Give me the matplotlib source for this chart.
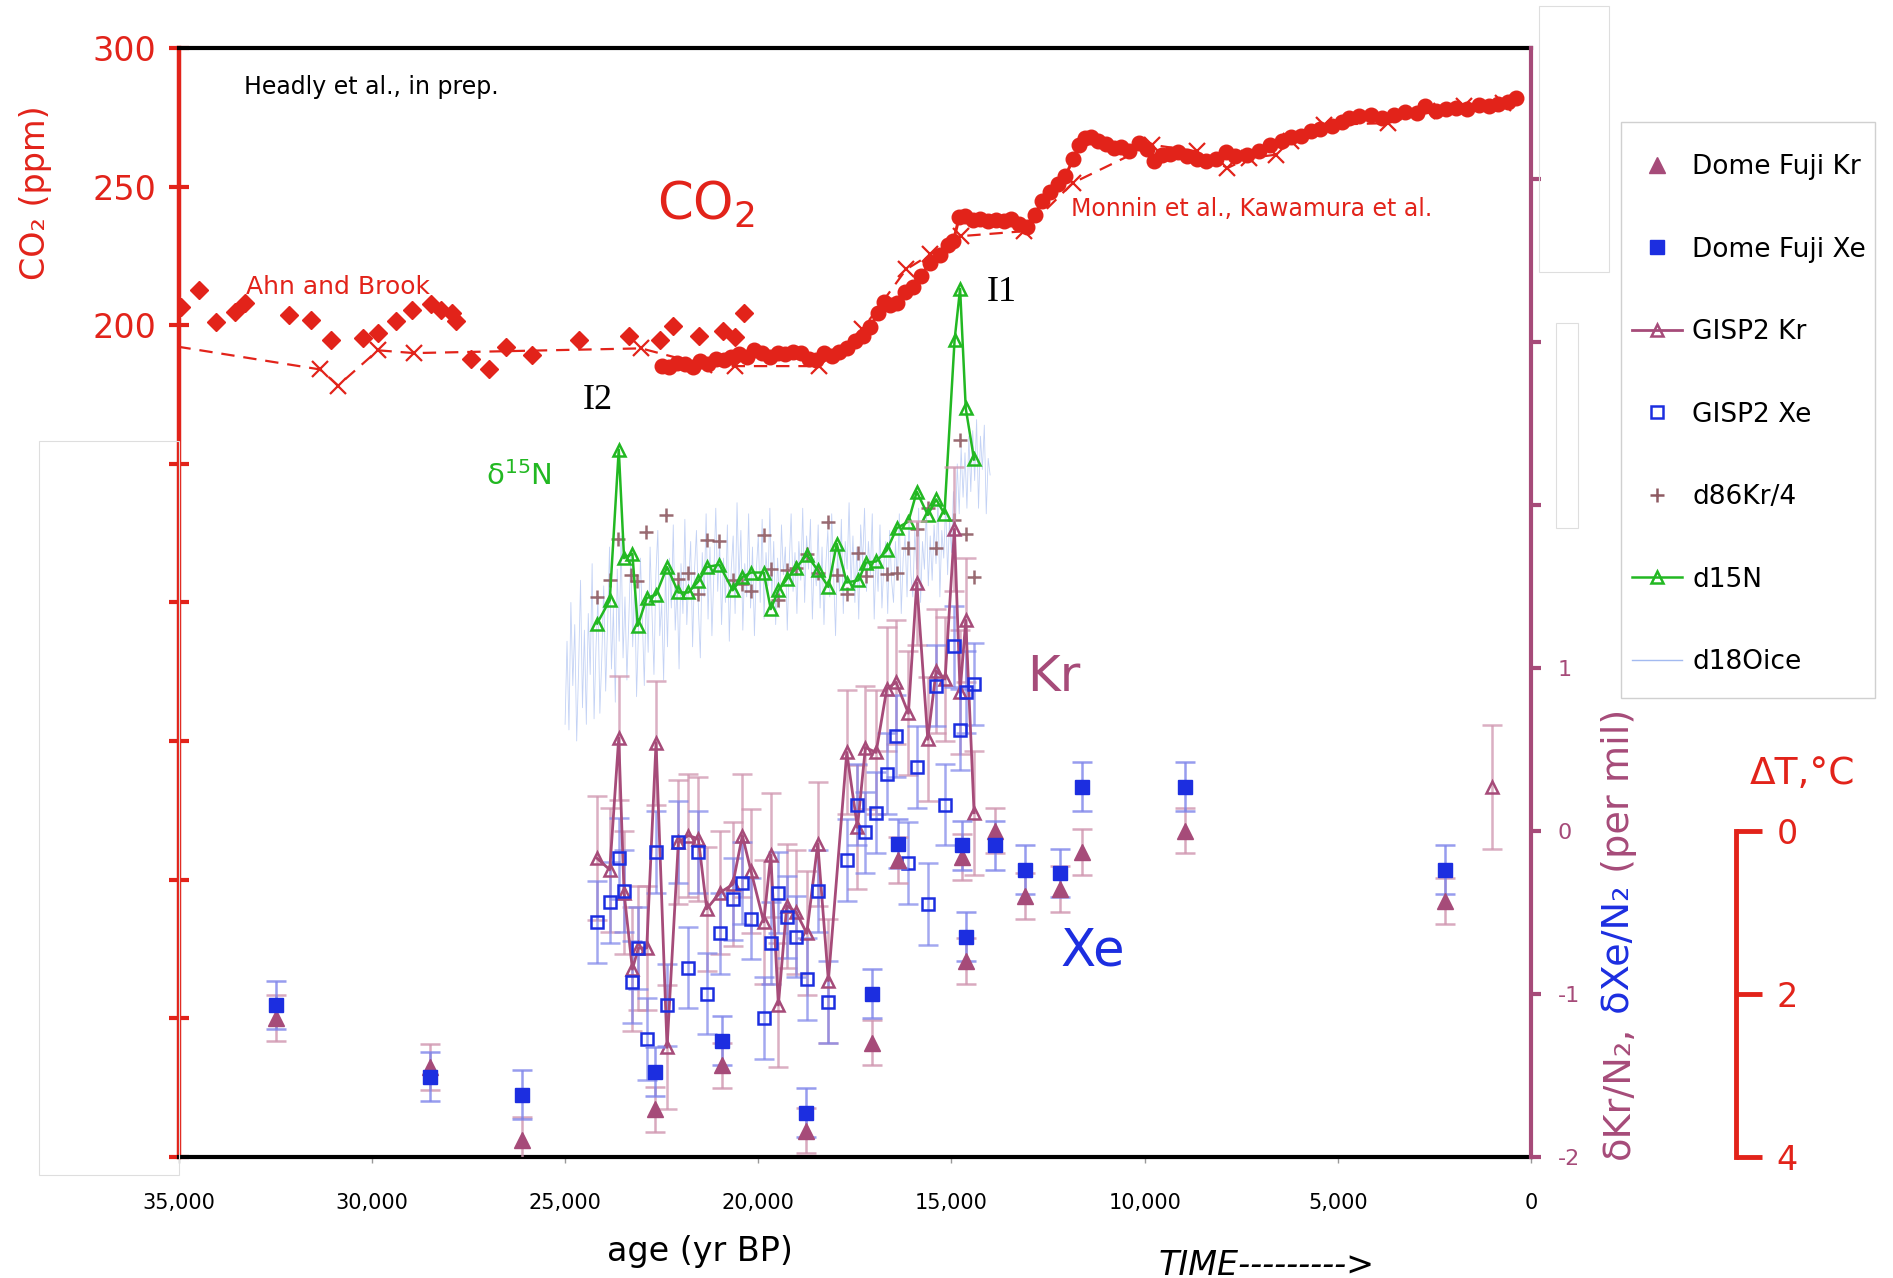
import matplotlib
matplotlib.use("Agg")
import matplotlib.pyplot as plt
import numpy as np
from matplotlib.lines import Line2D
from matplotlib.patches import Rectangle
from matplotlib.ticker import FixedLocator, FuncFormatter

plt.rcParams['font.family'] = ['DejaVu Sans']

RED = '#e2231a'
KR = '#a64b79'
XE = '#1c2ee0'
GREEN = '#22b822'
PLUS = '#8e5a62'
O18 = '#a3baf0'

# --- CO2 records (ppm) ---
ahn_age = [34942, 34480, 34029, 33532, 33290, 32157, 31568, 31060, 30240, 29835,
           29384, 28968, 28483, 28206, 27928, 27824, 27443, 26958, 26542, 25848,
           24647, 23341, 22532, 22220, 21537, 20911, 20614, 20378]
ahn_co2 = [206.6, 212.9, 201.3, 204.8, 208.0, 203.6, 202.0, 194.9, 195.4, 197.3,
           201.4, 205.4, 207.6, 205.6, 204.4, 201.5, 187.8, 184.2, 192.2, 189.4,
           194.8, 196.0, 194.6, 199.6, 196.1, 197.9, 195.9, 204.6]

kaw_age = [35600, 31344, 30875, 29844, 28906, 23031, 21403, 20614, 18437, 17303,
           16174, 15546, 14762, 13115, 11860, 9820, 8642, 7858, 7310, 6602,
           6212, 5350, 3702, 2682, 1742, 720]
kaw_co2 = [193.6, 184.1, 178.3, 191.0, 190.0, 191.7, 185.7, 185.3, 185.3, 198.6,
           220.2, 225.6, 232.2, 234.0, 251.4, 265.2, 262.8, 256.8, 260.4, 261.6,
           266.4, 272.4, 273.0, 277.2, 279.0, 280.2]

monnin_age = [22500, 22300, 22100, 21900, 21700, 21500, 21300, 21100, 20900, 20700,
              20500, 20300, 20100, 19900, 19700, 19500, 19300, 19100, 18900, 18700,
              18500, 18300, 18100, 17900, 17700, 17500, 17300, 17100, 16900, 16750,
              16600, 16400, 16200, 16000, 15800, 15550, 15300, 15100, 14950, 14800,
              14650, 14450, 14250, 14050, 13850, 13650, 13450, 13250, 13050, 12850,
              12650, 12450, 12250, 12050, 11850, 11700, 11550, 11400, 11200, 11000,
              10800, 10600, 10400, 10150, 9950, 9750, 9550, 9350, 9150, 8900,
              8650, 8400, 8150, 7900, 7650, 7350, 7050, 6750, 6450, 6200,
              5950, 5700, 5450, 5150, 4900, 4700, 4450, 4150, 3850, 3550,
              3250, 2950, 2750, 2450, 2200, 1950, 1650, 1350, 1100, 850,
              600, 400]
monnin_co2 = [185.5, 185.0, 186.5, 186.0, 185.0, 187.0, 186.0, 188.0, 187.5, 188.5,
              189.5, 188.5, 191.0, 190.0, 188.5, 190.0, 189.5, 190.5, 190.0, 188.0,
              187.5, 190.0, 189.0, 190.5, 192.0, 194.5, 196.0, 199.5, 204.5, 208.5,
              207.5, 208.0, 212.0, 214.0, 218.0, 222.5, 225.5, 229.0, 230.5, 239.0,
              239.5, 238.0, 238.5, 237.5, 238.0, 237.5, 238.5, 236.5, 235.5, 240.0,
              245.0, 248.0, 251.0, 254.0, 260.0, 265.0, 267.5, 268.0, 266.5, 265.5,
              264.0, 264.5, 263.0, 266.0, 263.5, 259.5, 261.5, 262.0, 262.5, 261.0,
              260.0, 259.5, 260.0, 262.5, 261.0, 261.5, 263.0, 265.0, 266.5, 268.0,
              268.5, 270.0, 271.0, 272.0, 273.5, 275.0, 275.5, 276.0, 275.0, 276.0,
              277.0, 276.5, 279.0, 277.5, 278.0, 278.5, 278.0, 279.5, 279.0, 280.0,
              280.5, 282.0]

# --- GISP2 noble gases (per mil) ---
gisp2_age = [24172, 23844, 23611, 23474, 23258, 23103, 22887, 22646, 22361, 22068,
             21810, 21551, 21334, 20989, 20661, 20412, 20187, 19858, 19677, 19480,
             19263, 19022, 18745, 18461, 18186, 17710, 17434, 17227, 16951, 16674,
             16433, 16115, 15898, 15613, 15398, 15165, 14924, 14777, 14630, 14415]
gisp2_kr = [-0.17, -0.24, 0.57, -0.38, -0.85, -0.72, -0.72, 0.54, -1.33, -0.07,
            -0.03, -0.05, -0.48, -0.38, -0.33, -0.03, -0.25, -0.56, -0.15, -1.07,
            -0.46, -0.50, -0.63, -0.08, -0.92, 0.48, 0.02, 0.51, 0.48, 0.87,
            0.91, 0.72, 1.52, 0.56, 0.98, 0.93, 1.85, 0.85, 1.29, 0.11]
gisp2_xe = [-0.56, -0.44, -0.17, -0.37, -0.93, -0.72, -1.28, -0.13, -1.07, -0.07,
            -0.84, -0.13, -1.00, -0.63, -0.42, -0.32, -0.54, -1.15, -0.69, -0.38,
            -0.53, -0.65, -0.91, -0.37, -1.05, -0.18, 0.16, -0.01, 0.11, 0.35,
            0.58, -0.20, 0.39, -0.45, 0.89, 0.16, 1.13, 0.62, 0.85, 0.90]
gisp2_kr_late_age = [1000]
gisp2_kr_late = [0.27]
gisp2_kr_err = 0.38
gisp2_xe_err = 0.25

# --- Dome Fuji noble gases (per mil) ---
df_age = [32469, 28500, 26125, 22672, 20929, 18771, 17047, 16389, 14716, 14621,
          13871, 13094, 12188, 11625, 8969, 2219]
df_kr = [-1.15, -1.45, -1.90, -1.71, -1.44, -1.84, -1.30, -0.18, -0.16, -0.80,
         0.00, -0.40, -0.36, -0.13, 0.00, -0.43]
df_xe = [-1.07, -1.51, -1.62, -1.48, -1.29, -1.73, -1.00, -0.08, -0.09, -0.65,
         -0.09, -0.24, -0.26, 0.27, 0.27, -0.24]
df_kr_err = 0.14
df_xe_err = 0.15

# --- GISP2 d15N and d86Kr/4 (per mil) ---
n15_age = [24172, 23844, 23611, 23474, 23258, 23120, 22887, 22646, 22361, 22068,
           21810, 21551, 21334, 21006, 20661, 20412, 20187, 19858, 19677, 19480,
           19263, 19022, 18745, 18461, 18186, 17969, 17710, 17408, 17210, 16951,
           16674, 16416, 16115, 15898, 15613, 15398, 15182, 14919, 14777, 14630,
           14415]
n15 = [0.281, 0.302, 0.438, 0.340, 0.344, 0.279, 0.304, 0.307, 0.332, 0.309,
       0.309, 0.319, 0.332, 0.334, 0.311, 0.323, 0.327, 0.327, 0.294, 0.311,
       0.321, 0.331, 0.343, 0.329, 0.314, 0.353, 0.318, 0.320, 0.336, 0.337,
       0.347, 0.367, 0.373, 0.400, 0.379, 0.393, 0.380, 0.537, 0.583, 0.475,
       0.429]
kr86_age = [24183, 23850, 23620, 23284, 23137, 22913, 22378, 22068, 21827, 21551,
            21334, 21006, 20661, 20412, 20187, 19858, 19677, 19480, 19263, 19022,
            18745, 18461, 18186, 17969, 17710, 17408, 17210, 16674, 16416, 16115,
            15898, 15613, 15398, 14924, 14777, 14630, 14415]
kr86_q = [0.305, 0.320, 0.357, 0.325, 0.319, 0.364, 0.379, 0.321, 0.327, 0.308,
          0.356, 0.355, 0.320, 0.317, 0.310, 0.361, 0.330, 0.302, 0.329, 0.331,
          0.344, 0.327, 0.373, 0.325, 0.308, 0.345, 0.324, 0.326, 0.327, 0.349,
          0.366, 0.385, 0.349, 0.374, 0.447, 0.362, 0.323]

# --- GISP2 d18O of ice, 50-yr steps from 25,000 yr BP ---
d18o_ice = [-41.8, -40.3, -41.9, -39.6, -41.1, -40.0, -42.1, -40.8, -39.2, -41.5,
            -40.1, -41.8, -39.8, -40.9, -38.9, -41.7, -40.4, -39.5, -41.6, -40.6,
            -39.3, -41.2, -40.0, -38.6, -40.8, -39.7, -41.4, -39.0, -40.3, -38.4,
            -40.6, -39.5, -41.0, -39.9, -38.7, -40.4, -39.2, -41.3, -40.1, -38.8,
            -39.9, -41.1, -39.4, -40.5, -38.6, -39.8, -40.9, -39.1, -38.3, -40.2,
            -39.6, -41.0, -39.0, -40.4, -38.8, -39.7, -38.2, -40.1, -39.3, -40.8,
            -38.9, -39.8, -38.1, -40.0, -39.2, -38.5, -40.4, -39.0, -38.3, -39.7,
            -40.6, -38.7, -39.5, -38.0, -39.9, -38.6, -40.2, -39.1, -37.9, -39.4,
            -38.5, -40.0, -38.8, -39.6, -38.2, -40.3, -39.0, -38.4, -39.8, -37.8,
            -39.2, -38.3, -40.1, -38.9, -39.5, -38.0, -39.7, -38.6, -40.2, -39.0,
            -38.4, -39.6, -38.1, -39.9, -38.7, -39.3, -37.9, -39.5, -38.5, -40.0,
            -38.8, -39.7, -38.2, -39.1, -38.6, -40.1, -38.9, -38.0, -39.4, -38.7,
            -39.8, -38.5, -39.2, -37.9, -39.6, -38.4, -39.0, -38.1, -39.9, -38.8,
            -39.3, -38.2, -39.7, -38.6, -40.0, -38.9, -38.3, -39.5, -38.0, -39.1,
            -40.2, -38.7, -39.4, -38.1, -39.8, -38.5, -39.0, -37.8, -39.3, -38.4,
            -39.6, -38.6, -39.9, -38.2, -38.9, -37.9, -39.4, -38.5, -39.1, -38.0,
            -39.9, -38.7, -39.4, -38.2, -39.7, -38.9, -38.5, -39.8, -38.3, -39.2,
            -39.6, -38.5, -39.2, -38.0, -39.8, -38.8, -38.4, -39.5, -38.1, -39.1,
            -39.5, -38.3, -39.0, -37.9, -39.6, -38.5, -39.0, -37.9, -39.3, -38.4,
            -39.2, -38.2, -38.9, -37.7, -39.5, -38.3, -38.8, -37.8, -39.1, -38.1,
            -38.7, -37.6, -38.3, -37.1, -38.0, -36.8, -37.7, -36.9, -37.9, -36.6,
            -37.6, -36.5, -37.4, -36.3, -37.9, -36.6, -37.2, -36.4, -38.0, -37.0,
            -37.3]
d18o_age = 25000 - 50 * np.arange(len(d18o_ice))

co2_ticks = [-100, -50, 0, 50, 100, 150, 200, 250, 300]
co2_labelled = [200, 250, 300]
kr_ticks = [-2, -1, 0, 1, 2, 3, 4]
kr_labelled = [-2, -1, 0, 1]
age_ticks = [35000, 30000, 25000, 20000, 15000, 10000, 5000, 0]
dt_ticks = [0, 2, 4]

fig = plt.figure(figsize=(18.93, 12.78), dpi=100)
ax = fig.add_axes([0.0944, 0.095, 0.7144, 0.8672])
ax_o18 = ax.twinx()
ax_n = ax.twinx()
ax_kr = ax.twinx()

ax.set_xlim(35000, 0)
ax.set_ylim(-100, 300)
ax_o18.set_ylim(-49.6, -29.6)
ax_n.set_ylim(-0.2, 0.8)
ax_kr.set_ylim(-2, 4.8)
ax_o18.axis('off')
ax_n.axis('off')

# CO2
ax.plot(kaw_age, kaw_co2, ls=(0, (6, 4)), marker='x', color=RED, ms=12,
        mew=1.6, lw=1.6)
ax.plot(ahn_age, ahn_co2, 'D', color=RED, ms=9.5, ls='none')
ax.plot(monnin_age, monnin_co2, '-o', color=RED, ms=10.5, lw=2.2)

# d18O ice and d15N / d86Kr
ax_o18.plot(d18o_age, d18o_ice, color=O18, lw=0.6, alpha=0.65)
ax_n.plot(kr86_age, kr86_q, '+', color=PLUS, ms=10, mew=1.8, alpha=0.9)
ax_n.plot(n15_age, n15, '-^', color=GREEN, mfc='none', ms=9, mew=1.8, lw=1.8)

# noble gases
ebar = dict(fmt='none', elinewidth=1.8, capsize=7, capthick=1.8)
ax_kr.errorbar(gisp2_age, gisp2_kr, yerr=gisp2_kr_err, ecolor='#cf94ae', alpha=0.75, **ebar)
ax_kr.errorbar(gisp2_age, gisp2_xe, yerr=gisp2_xe_err, ecolor='#7d84ea', alpha=0.7, **ebar)
ax_kr.errorbar(gisp2_kr_late_age, gisp2_kr_late, yerr=gisp2_kr_err, ecolor='#cf94ae',
               alpha=0.75, **ebar)
ax_kr.plot(gisp2_age, gisp2_kr, '-^', color=KR, mfc='none', ms=9, mew=1.8, lw=2)
ax_kr.plot(gisp2_kr_late_age, gisp2_kr_late, '^', color=KR, mfc='none', ms=9, mew=1.8)
ax_kr.plot(gisp2_age, gisp2_xe, 's', mec=XE, mfc='none', ms=9, mew=1.8, ls='none')

ax_kr.errorbar(df_age, df_kr, yerr=df_kr_err, ecolor='#cf94ae', alpha=0.8, **ebar)
ax_kr.errorbar(df_age, df_xe, yerr=df_xe_err, ecolor='#7d84ea', alpha=0.8, **ebar)
ax_kr.plot(df_age, df_kr, '^', color=KR, ms=12, ls='none')
ax_kr.plot(df_age, df_xe, 's', color=XE, ms=10, ls='none')

# spines and ticks
for a in (ax, ax_kr):
    a.spines['right'].set_visible(a is ax_kr)
    a.spines['left'].set_visible(a is ax)
    a.spines['top'].set_visible(a is ax)
    a.spines['bottom'].set_visible(a is ax)
ax.spines['left'].set_color(RED)
ax.spines['left'].set_linewidth(3.2)
ax.spines['top'].set_linewidth(3)
ax.spines['bottom'].set_linewidth(3)
ax_kr.spines['right'].set_color(KR)
ax_kr.spines['right'].set_linewidth(3)

ax.yaxis.set_major_locator(FixedLocator(co2_ticks))
ax.yaxis.set_major_formatter(FuncFormatter(
    lambda v, p: f'{int(v)}' if int(round(v)) in co2_labelled else ''))
ax.tick_params(axis='y', colors=RED, direction='inout', length=14, width=3,
               labelsize=24, pad=9)

ax_kr.yaxis.set_major_locator(FixedLocator(kr_ticks))
ax_kr.yaxis.set_major_formatter(FuncFormatter(
    lambda v, p: f'{int(round(v))}'.replace('-', '\u2010') if int(round(v)) in kr_labelled else ''))
ax_kr.tick_params(axis='y', colors=KR, direction='out', length=7, width=3,
                  labelsize=16, pad=12)

ax.xaxis.set_major_locator(FixedLocator(age_ticks))
ax.xaxis.set_major_formatter(FuncFormatter(lambda v, p: f'{int(v):,}'))
ax.tick_params(axis='x', colors='#999999', length=4, width=1, labelsize=15,
               labelcolor='black', pad=22)
ax.set_xlabel('age (yr BP)', fontsize=24, labelpad=4)
ax.xaxis.set_label_coords(0.3855, -0.071)

# annotations
ax.text(33312, 286, 'Headly et al., in prep.', fontsize=17, ha='left', va='center')
ax.text(21344, 243.5, 'CO$_2$', fontsize=37, color=RED, ha='center', va='center')
ax.text(33250, 214, 'Ahn and Brook', fontsize=18, color=RED, ha='left', va='center')
ax.text(11906, 242, 'Monnin et al., Kawamura et al.', fontsize=17, color=RED,
        ha='left', va='center')
ax.text(13688, 212, 'I1', fontsize=26, family='Liberation Serif', ha='center', va='center')
ax.text(24156, 173, 'I2', fontsize=26, family='Liberation Serif', ha='center', va='center')
ax.text(26188, 145.5, '\u03b4$^{15}$N', fontsize=21, color=GREEN, ha='center', va='center')
ax.text(12344, 73, 'Kr', fontsize=36, color=KR, ha='center', va='center')
ax.text(11344, -26, 'Xe', fontsize=37, color=XE, ha='center', va='center')

fig.text(0.019, 0.849, 'CO\u2082 (ppm)', rotation=90, color=RED, fontsize=24,
         ha='center', va='center')
fig.text(0.612, 0.010, 'TIME--------->', fontsize=24, style='italic',
         ha='left', va='center')

# right axis label in two colours
renderer = fig.canvas.get_renderer()
y = 0.0931
for s, c in [('\u03b4Kr/N\u2082,', KR), (' \u03b4Xe/N\u2082', XE), (' (per mil)', KR)]:
    t = fig.text(0.8553, y, s, rotation=90, rotation_mode='anchor', ha='left',
                 va='center', color=c, fontsize=27.5)
    y += t.get_window_extent(renderer).height / fig.bbox.height

# faint empty frames
for x0, y0, w, h in [(0.0204, 0.0808, 0.074, 0.5743),
                     (0.813, 0.7875, 0.037, 0.2078),
                     (0.822, 0.5872, 0.0116, 0.1597)]:
    fig.add_artist(Rectangle((x0, y0), w, h, transform=fig.transFigure,
                             fill=False, ec='#dedede', lw=0.8))

# temperature scale bar
ax_dt = fig.add_axes([0.9171, 0.095, 0.0001, 0.255])
ax_dt.set_ylim(4, 0)
ax_dt.set_xticks([])
for side in ('left', 'top', 'bottom'):
    ax_dt.spines[side].set_visible(False)
ax_dt.spines['right'].set_color(RED)
ax_dt.spines['right'].set_linewidth(3.5)
ax_dt.yaxis.tick_right()
ax_dt.set_yticks(dt_ticks)
ax_dt.tick_params(axis='y', colors=RED, direction='out', length=19, width=3.5,
                  labelsize=24, pad=10)
fig.text(0.952, 0.394, '\u0394T,\u00b0C', color=RED, fontsize=27, ha='center',
         va='center')

# legend, with its frame drawn separately
fig.add_artist(Rectangle((0.8565, 0.4542), 0.1339, 0.4504, transform=fig.transFigure,
                         fill=False, ec='#d0d0d0', lw=1))
handles = [
    Line2D([], [], marker='^', ls='none', color=KR, ms=12),
    Line2D([], [], marker='s', ls='none', color=XE, ms=10),
    Line2D([], [], marker='^', color=KR, mfc='none', ms=9, mew=1.8, lw=2),
    Line2D([], [], marker='s', ls='none', mec=XE, mfc='none', ms=9, mew=1.8),
    Line2D([], [], marker='+', ls='none', color=PLUS, ms=10, mew=1.8),
    Line2D([], [], marker='^', color=GREEN, mfc='none', ms=9, mew=1.8, lw=1.8),
    Line2D([], [], color=O18, lw=1),
]
labels = ['Dome Fuji Kr', 'Dome Fuji Xe', 'GISP2 Kr', 'GISP2 Xe', 'd86Kr/4',
          'd15N', 'd18Oice']
fig.legend(handles, labels, loc='upper left', bbox_to_anchor=(0.8622, 0.8793),
           fontsize=19, labelspacing=2.14, handlelength=1.9, handletextpad=0.37,
           borderpad=0, borderaxespad=0, frameon=False)

fig.savefig('out.png', dpi=100)
